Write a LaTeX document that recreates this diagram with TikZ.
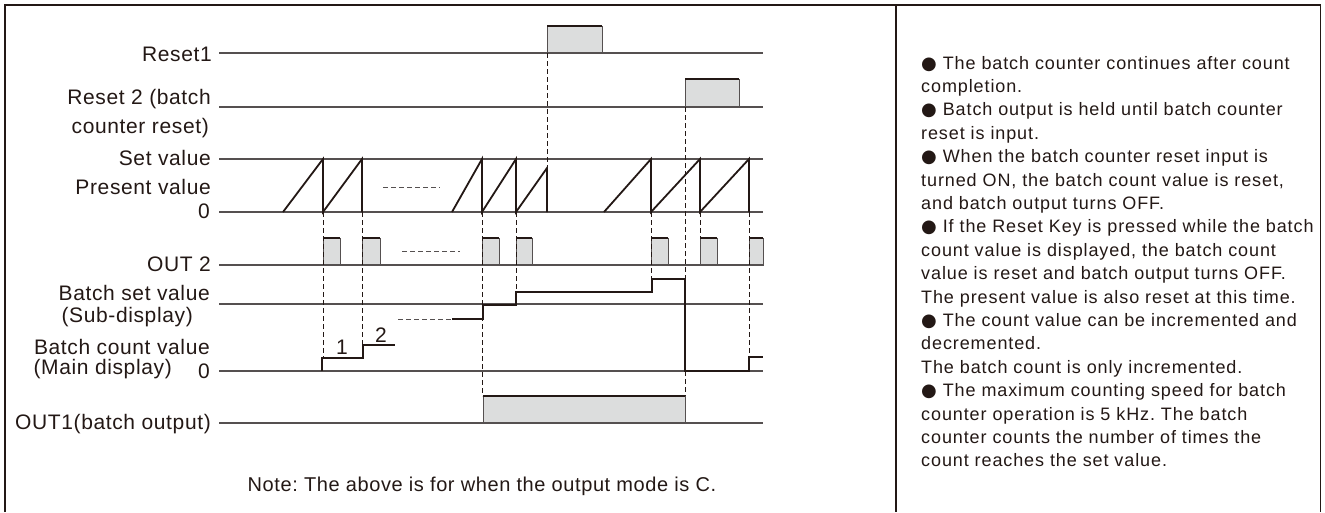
\documentclass[tikz,border=0pt]{standalone}
\usepackage{fontspec}
\setmainfont{Liberation Sans}
\newfontfamily\lblfont[LetterSpace=3]{Liberation Sans}
\newfontfamily\txtfont[LetterSpace=5]{Liberation Sans}
\newfontfamily\symfont{DejaVu Sans}
\newcommand\bul{{\symfont ●}\ }
\definecolor{ink}{RGB}{35,24,21}
\definecolor{axis}{RGB}{85,80,80}
\definecolor{pulse}{RGB}{220,221,221}
\frenchspacing
\begin{document}
\begin{tikzpicture}[x=1pt,y=-1pt,
  axisline/.style={draw=axis,line width=1.1pt},
  wave/.style={draw=ink,line width=1.8pt,line join=miter},
  guide/.style={draw=ink,line width=0.9pt,dash pattern=on 5pt off 3pt},
  gapline/.style={draw=axis,line width=0.9pt,dash pattern=on 5pt off 3pt},
  lbl/.style={anchor=base east,inner sep=0pt,text=ink,font=\lblfont\fontsize{21}{24}\selectfont},
  txt/.style={anchor=base west,inner sep=0pt,text=ink,font=\txtfont\fontsize{18}{21}\selectfont},
  pbox/.style={fill=pulse,draw=axis,line width=0.8pt},
  frame/.style={draw=ink,line width=1.2pt}]
\useasboundingbox (0,0) rectangle (1325,512);
% frame
\draw[frame] (5,512) -- (5,5) -- (1320.5,5) -- (1320.5,512);
\draw[frame] (896,5) -- (896,512);
% pulses
\newcommand\pulse[3]{\filldraw[pbox] (#1,#3) rectangle (#2,\ptop); \draw[wave] (#1,\ptop) -- (#2,\ptop);}
\def\ptop{26}\pulse{547}{602}{53}
\def\ptop{79}\pulse{685}{739}{107}
\def\ptop{238}
\foreach \a/\b in {323/340,362/380,482/499,516/532,651/668,700/717,749/763}{\pulse{\a}{\b}{265}}
\def\ptop{396}\pulse{483}{685}{423}
% axis lines
\foreach \yy in {53,107,159,212,265,304,371,423}{\draw[axisline] (219,\yy) -- (763,\yy);}
% labels
\node[lbl] (l1) at (212,61.5) {Reset1};
\node[lbl] (l2) at (211,104) {Reset 2 (batch};
\node[lbl] (l3) at (209,133) {counter reset)};
\node[lbl] (l4) at (211,165.5) {Set value};
\node[lbl] (l5) at (211,194) {Present value};
\node[lbl] (l6) at (210,218) {0};
\node[lbl] (l7) at (211,271.5) {OUT 2};
\node[lbl] (l8) at (210,300) {Batch set value};
\node[lbl] (l9) at (193,322) {(Sub-display)};
\node[lbl] (l10) at (210,354) {Batch count value};
\node[lbl] (l11) at (172,374) {(Main display)};
\node[lbl] (l12) at (210,378) {0};
\node[lbl] (l13) at (211,429) {OUT1(batch output)};
\node[lbl,anchor=base,font=\lblfont\fontsize{20}{24}\selectfont] (note) at (482,491.5) {Note: The above is for when the output mode is C.};
% dashed gaps
\draw[gapline] (383,187) -- (440,187);
\draw[gapline] (402,251) -- (460,251);
\draw[gapline] (398,319) -- (452,319);
% guides
\draw[guide] (323,212) -- (323,358);
\draw[guide] (362,212) -- (362,345);
\draw[guide] (482,212) -- (482,396);
\draw[guide] (516,212) -- (516,292);
\draw[guide] (547,53) -- (547,168);
\draw[guide] (651,212) -- (651,279);
\draw[guide] (685,107) -- (685,396);
\draw[guide] (700,212) -- (700,238);
\draw[guide] (749,212) -- (749,357);
% present value sawtooth
\draw[wave] (283,212) -- (323,159) -- (323,212) -- (362,159) -- (362,212);
\draw[wave] (452,212) -- (482,159) -- (482,212) -- (516,159) -- (516,212) -- (547,168) -- (547,212);
\draw[wave] (604,212) -- (651,159) -- (651,212) -- (700,159) -- (700,212) -- (749,159) -- (749,212);
% batch count
\draw[wave] (322,371) -- (322,358) -- (363,358) -- (363,345) -- (395,345);
\draw[wave] (452,319) -- (483,319) -- (483,305) -- (516,305) -- (516,292) -- (652,292) -- (652,279) -- (685,279) -- (685,371) -- (749,371) -- (749,357) -- (763,357);
\node[lbl,anchor=base] (n1) at (342,354) {1};
\node[lbl,anchor=base] (n2) at (381,342) {2};
% right text
\foreach \t [count=\i] in {
 {\bul The batch counter continues after count},
 {completion.},
 {\bul Batch output is held until batch counter},
 {reset is input.},
 {\bul When the batch counter reset input is},
 {turned ON, the batch count value is reset,},
 {and batch output turns OFF.},
 {\bul If the Reset Key is pressed while the batch},
 {count value is displayed, the batch count},
 {value is reset and batch output turns OFF.},
 {The present value is also reset at this time.},
 {\bul The count value can be incremented and},
 {decremented.},
 {The batch count is only incremented.},
 {\bul The maximum counting speed for batch},
 {counter operation is 5 kHz. The batch},
 {counter counts the number of times the},
 {count reaches the set value.}}
 {\node[txt] (r\i) at (921,{69+(\i-1)*23.4}) {\t};}
\end{tikzpicture}
\end{document}
